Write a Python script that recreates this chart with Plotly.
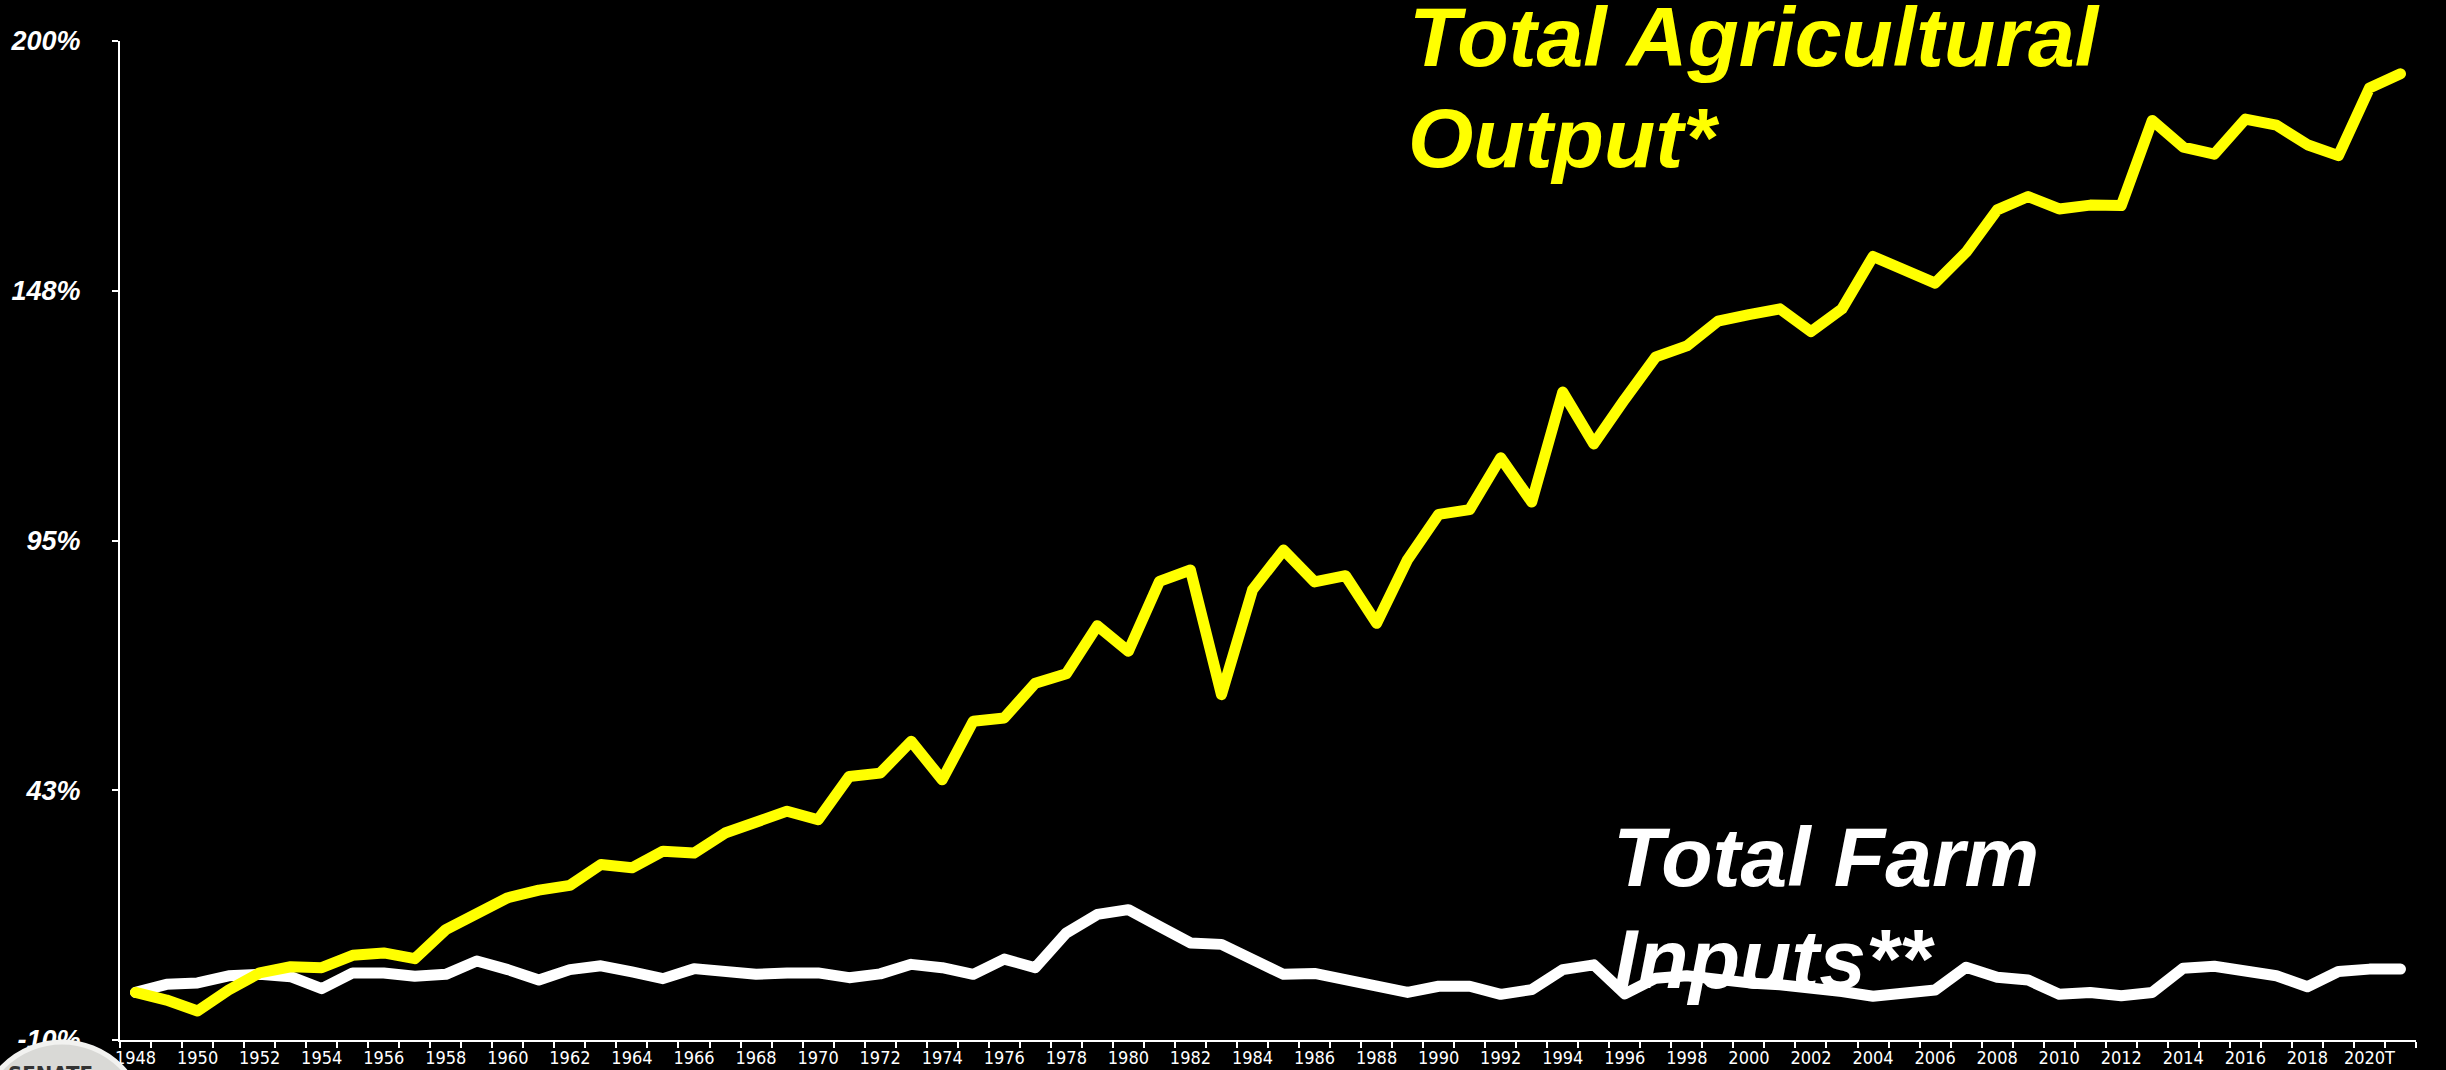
import plotly.graph_objects as go

# ---------------- data ----------------
years = [str(y) for y in range(1948, 2020)] + ["2020", "2021"]
tick_labels = [str(y) if (y % 2 == 0) else "" for y in range(1948, 2020)] + ["2020T", ""]

total_output = [
    0.0, -1.6, -3.9, 0.5, 4.1, 5.4, 5.2, 7.8, 8.3, 7.1,
    13.2, 16.4, 19.9, 21.5, 22.5, 26.9, 26.2, 29.7, 29.3, 33.5,
    35.6, 38.1, 36.3, 45.4, 46.1, 52.8, 44.7, 57.0, 57.7, 65.0,
    67.0, 77.1, 71.7, 86.4, 88.8, 62.6, 84.6, 93.0, 86.3, 87.6,
    77.6, 91.0, 100.5, 101.5, 112.4, 103.1, 126.2, 115.3, 124.7, 133.6,
    135.9, 141.1, 142.5, 143.7, 138.9, 143.7, 154.7, 151.8, 149.1, 155.6,
    164.5, 167.3, 164.7, 165.5, 165.4, 183.3, 177.7, 176.2, 183.6, 182.3,
    178.2, 175.9, 190.1, 193.1,
]

total_inputs = [
    0.0, 1.7, 2.0, 3.5, 3.8, 3.3, 0.8, 4.1, 4.1, 3.4,
    3.8, 6.6, 4.8, 2.6, 4.8, 5.6, 4.3, 2.9, 5.0, 4.3,
    3.8, 4.1, 4.1, 3.1, 3.9, 5.9, 5.2, 3.8, 7.0, 5.2,
    12.5, 16.4, 17.4, 13.9, 10.4, 10.1, 6.9, 3.8, 4.0, 2.6,
    1.1, 0.0, 1.3, 1.3, -0.4, 0.6, 4.8, 5.8, -0.3, 3.0,
    3.5, 2.5, 2.0, 1.6, 1.0, 0.2, -0.8, 0.0, 0.5, 5.3,
    3.2, 2.6, -0.4, 0.0, -0.7, 0.0, 5.1, 5.5, 4.5, 3.5,
    1.2, 4.4, 4.9, 4.9,
]

y_tickvals = [-10, 42.5, 95, 147.5, 200]
y_ticktext = ["-10%", "43%", "95%", "148%", "200%"]

YELLOW = "#FFFF00"
WHITE = "#FFFFFF"
SANS = "Liberation Sans, Arial, Helvetica, sans-serif"
NARROW = "Liberation Sans Narrow, Arial Narrow, DejaVu Sans Condensed, sans-serif"

fig = go.Figure()
fig.add_trace(go.Scatter(x=years, y=total_inputs, mode="lines",
                         line=dict(color=WHITE, width=11), showlegend=False,
                         name="Total Farm Inputs"))
fig.add_trace(go.Scatter(x=years, y=total_output, mode="lines",
                         line=dict(color=YELLOW, width=11), showlegend=False,
                         name="Total Agricultural Output"))

W, H = 2446, 1070
ML, MR, MT, MB = 120, 30, 41, 30
PW, PH = W - ML - MR, H - MT - MB


def px(xp):
    return (xp - ML) / PW


def py(yp):
    return (H - MB - yp) / PH


big = dict(family=SANS, size=84, weight="bold", style="italic")
annos = [
    ("Total Agricultural", 1407, 37.5, YELLOW),
    ("Output*", 1406, 138.5, YELLOW),
    ("Total Farm", 1611, 857, WHITE),
    ("Inputs**", 1612, 959, WHITE),
]
for txt, x, y, c in annos:
    fig.add_annotation(text=txt, xref="paper", yref="paper", x=px(x), y=py(y),
                       xanchor="left", yanchor="middle", showarrow=False,
                       font=dict(color=c, **big))

# seal in the bottom-left corner
fig.add_shape(type="circle", xref="paper", yref="paper", xsizemode="pixel",
              ysizemode="pixel", xanchor=0, yanchor=0,
              x0=-141, x1=25, y0=-168, y1=-2,
              fillcolor="#d9d9d6", line=dict(color="#f2f2f0", width=5), layer="above")
fig.add_annotation(text="SENATE", xref="paper", yref="paper", x=px(50), y=py(1074),
                   xanchor="center", yanchor="middle", showarrow=False,
                   font=dict(family=NARROW, size=22, color="#333333", weight="bold"))

fig.update_layout(
    width=W, height=H,
    margin=dict(l=ML, r=MR, t=MT, b=MB, autoexpand=False),
    paper_bgcolor="black", plot_bgcolor="black",
    showlegend=False,
    xaxis=dict(
        type="category", categoryorder="array", categoryarray=years,
        range=[-0.5, len(years) - 0.5], automargin=False,
        tickmode="array", tickvals=years, ticktext=tick_labels,
        tickson="boundaries",
        showline=True, linecolor=WHITE, linewidth=2,
        ticks="outside", ticklen=6, tickwidth=2, tickcolor=WHITE,
        showgrid=False, zeroline=False, tickangle=0,
        tickfont=dict(family=NARROW, size=18, color=WHITE),
    ),
    yaxis=dict(
        range=[-10, 200], automargin=False,
        tickmode="array", tickvals=y_tickvals, ticktext=y_ticktext,
        showline=True, linecolor=WHITE, linewidth=2,
        ticks="outside", ticklen=6, tickwidth=2, tickcolor=WHITE,
        showgrid=False, zeroline=False,
        ticklabelstandoff=26,
        tickfont=dict(family=SANS, size=27, color=WHITE, weight="bold", style="italic"),
    ),
)

post = """
document.body.style.margin='0';
document.body.style.background='black';
document.querySelectorAll('.scatterlayer path.js-line').forEach(function(p){
  p.style.strokeLinejoin='round'; p.style.strokeLinecap='round';
});
"""
fig.write_html("out.html", post_script=post, config={"displayModeBar": False})
